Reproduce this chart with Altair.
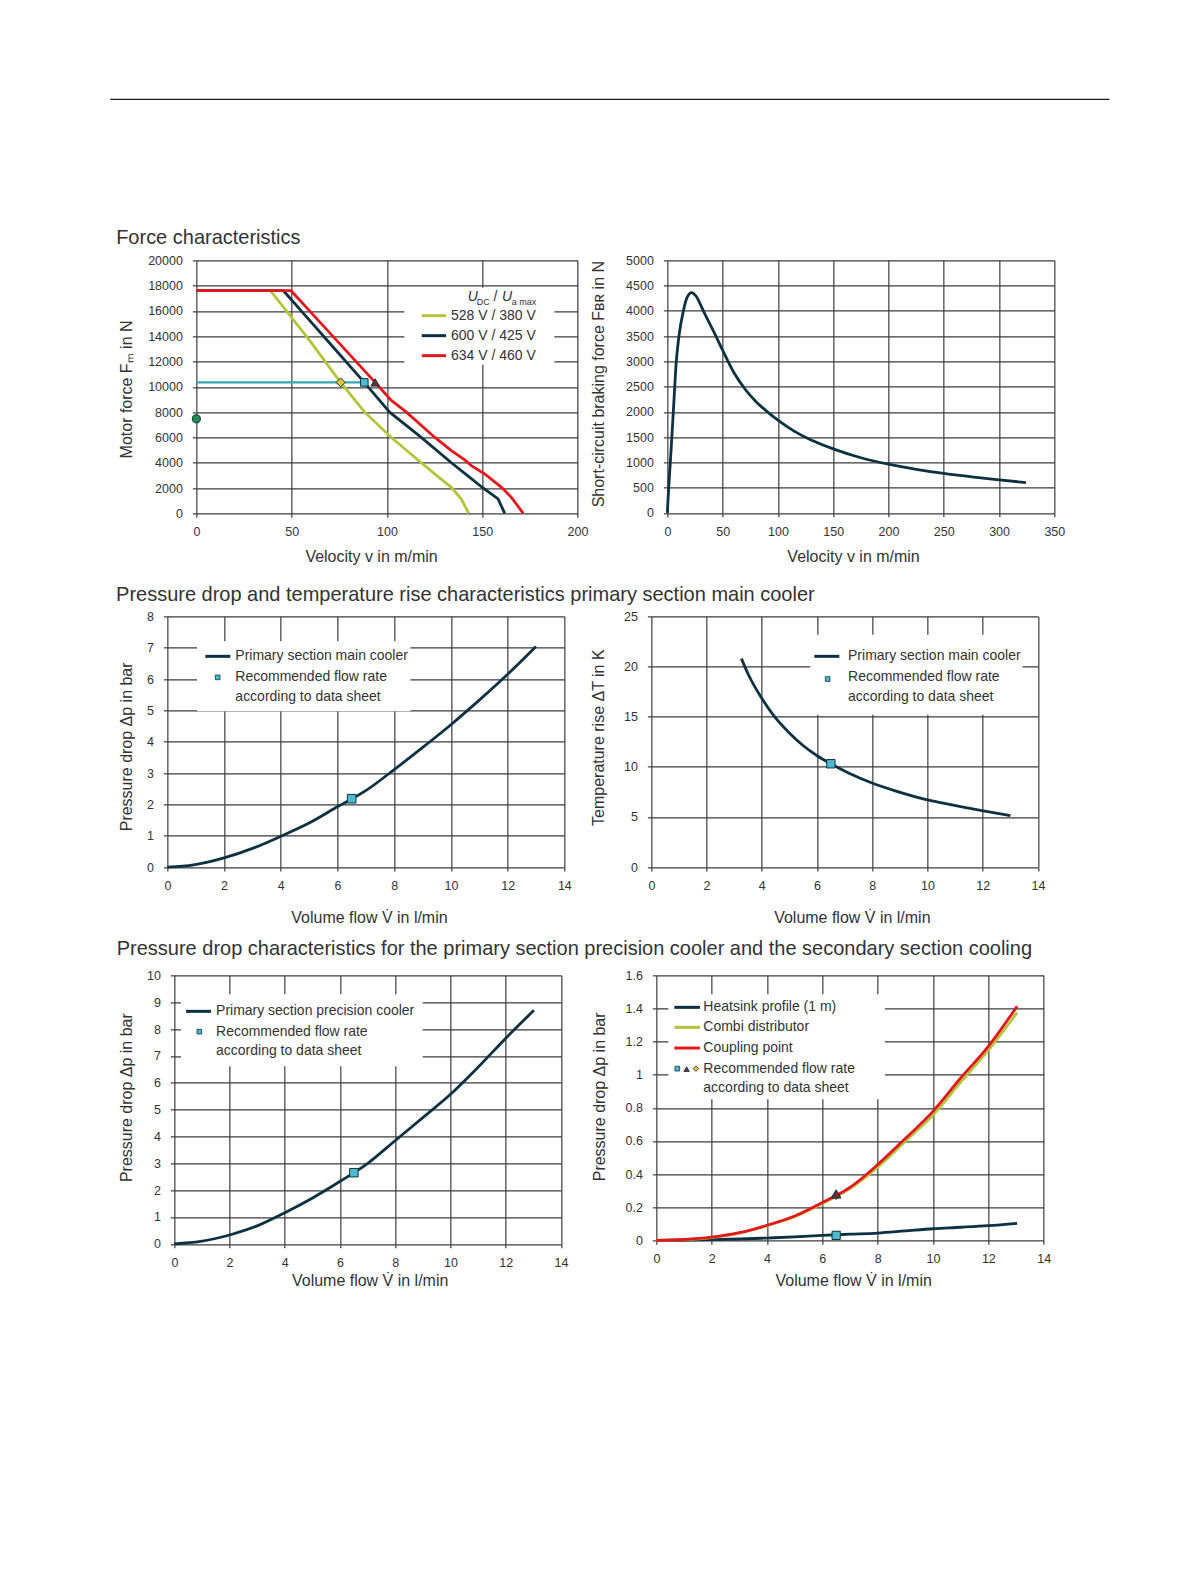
import altair as alt
import pandas as pd

FONT = "Liberation Sans"
TXT = "#333333"
GRID = "#3d3d3d"
DARK = "#0d3140"
GREEN = "#b4c53c"
RED = "#e3171e"
TEAL = "#35a8b5"
SQFILL = "#4db9cf"
DIAFILL = "#f0c233"
TRIFILL = "#7a2a26"
CIRCFILL = "#1f8c4e"

# ---------------- data ----------------
# Force characteristics
v_528 = [0, 38.9, 50, 60, 70, 75.7, 88.3, 102.3, 118, 125, 133.8, 139, 142.9]
F_528 = [17600, 17600, 15480, 13550, 11500, 10350, 8000, 6000, 4000, 3115, 2059, 1135, 0]
v_600 = [0, 45.7, 60, 70, 88.1, 101.4, 118, 133.8, 139, 150.4, 158.3, 161.8]
F_600 = [17600, 17600, 15160, 13450, 10350, 8000, 6000, 4000, 3379, 2006, 1135, 0]
v_634 = [0, 49.7, 60, 70, 93.8, 102.3, 110.2, 125, 133.8, 140.8, 144.3, 151.3, 160.1, 165.3, 171.5]
F_634 = [17600, 17600, 15910, 14270, 10350, 8923, 8000, 6019, 4963, 4224, 3775, 3115, 2059, 1267, 0]
op_line_v = [0, 88.1]
op_line_F = [10350, 10350]
op_528_v, op_600_v, op_634_v = [75.7], [88.1], [93.8]
op_F = [10350]
stand_v, stand_F = [0], [7470]

# Short-circuit braking force
v_br = [0, 1.2, 2.7, 5.4, 8.1, 10.5, 14.5, 18, 22, 25.6, 33.1, 42.2, 50, 60, 70, 80, 90,
        100, 115, 130, 150, 175, 200, 225, 250, 275, 300, 324.4]
F_br = [0, 500, 1000, 2000, 3000, 3500, 4000, 4270, 4359, 4300, 3975, 3578, 3220, 2783, 2457, 2206, 2010,
        1835, 1613, 1442, 1267, 1091, 963, 862, 780, 713, 653, 600]

# Pressure drop main cooler
q_main = [0, 0.93, 2, 3.05, 4, 4.93, 6.01, 7.05, 8, 9.05, 10.01, 10.93, 12.01, 13]
dp_main = [0, 0.07, 0.29, 0.61, 0.98, 1.37, 1.93, 2.47, 3.11, 3.85, 4.55, 5.27, 6.16, 7.04]
rec_main_q, rec_main_dp = [6.5], [2.18]

# Temperature rise main cooler
q_temp = [3.26, 3.52, 3.98, 4.43, 4.97, 5.46, 6.0, 6.5, 7.14, 7.99, 8.83, 10.0, 10.52, 11.97, 13.0]
dT_temp = [20.78, 19.15, 16.9, 15.1, 13.45, 12.2, 11.1, 10.3, 9.38, 8.38, 7.6, 6.7, 6.4, 5.62, 5.12]
rec_temp_q, rec_temp_dT = [6.5], [10.3]

# Pressure drop precision cooler
q_prec = [0, 0.95, 2.0, 3.0, 4.02, 5.02, 6.02, 6.99, 8.01, 9.04, 10.0, 10.97, 12.0, 13.02]
dp_prec = [0, 0.09, 0.33, 0.67, 1.17, 1.72, 2.34, 2.99, 3.86, 4.74, 5.57, 6.55, 7.66, 8.70]
rec_prec_q, rec_prec_dp = [6.5], [2.65]

# Secondary section cooling
q_sec = [0, 1, 2, 3, 4, 5, 6, 7, 8, 9, 10, 11, 12, 13.04]
dp_heatsink = [0, 0.001, 0.004, 0.008, 0.014, 0.021, 0.030, 0.037, 0.044, 0.057, 0.070, 0.079, 0.089, 0.103]
dp_combi = [0, 0.004, 0.017, 0.043, 0.088, 0.142, 0.222, 0.312, 0.441, 0.598, 0.757, 0.955, 1.148, 1.375]
dp_coupling = [0, 0.005, 0.019, 0.046, 0.091, 0.147, 0.229, 0.320, 0.457, 0.615, 0.779, 0.980, 1.171, 1.413]
rec_sec_q = [6.5]
rec_heatsink_dp, rec_combi_dp, rec_coupling_dp = [0.03], [0.27], [0.28]

one = pd.DataFrame({"d": [0]})


# ---------------- helpers ----------------
def ax(values, title, tx, ty, angle, pad):
    return alt.Axis(values=values, format="~f", title=title, grid=True, gridColor=GRID,
                    gridWidth=1.2, gridOpacity=1, domain=False, ticks=True, tickSize=4,
                    tickColor=GRID, tickWidth=1.2, labelFont=FONT, labelFontSize=12.5,
                    labelColor=TXT, labelPadding=pad, labelFlush=False, labelOverlap=False,
                    titleFont=FONT, titleFontSize=16, titleFontWeight="normal", titleColor=TXT,
                    titleX=tx, titleY=ty, titleAngle=angle, titleAlign="center",
                    titleBaseline="middle", zindex=0)


def enc(xdom, xvals, xtitle, xtx, xty, ydom, yvals, ytitle, ytx, yty):
    X = alt.X("x:Q", scale=alt.Scale(domain=xdom, nice=False, zero=False),
              axis=ax(xvals, xtitle, xtx, xty, 0, 8.5))
    Y = alt.Y("y:Q", scale=alt.Scale(domain=ydom, nice=False, zero=False),
              axis=ax(yvals, ytitle, ytx, yty, 270, 10))
    return X, Y


def curve(xs, ys, color, X, Y, width=2.8, interp="monotone"):
    df = pd.DataFrame({"x": xs, "y": ys})
    return alt.Chart(df).mark_line(color=color, strokeWidth=width, interpolate=interp).encode(x=X, y=Y)


def marks(xs, ys, shape, size, fill, X, Y, stroke=DARK, sw=1):
    df = pd.DataFrame({"x": xs, "y": ys})
    return alt.Chart(df).mark_point(shape=shape, size=size, filled=True, fill=fill, stroke=stroke,
                                    strokeWidth=sw, opacity=1).encode(x=X, y=Y)


def txt(s, x, y, size=14, style="normal", color=TXT, baseline="middle"):
    return alt.Chart(one).mark_text(text=s, font=FONT, fontSize=size, fontStyle=style, color=color,
                                    baseline=baseline, align="left").encode(
        x=alt.value(x), y=alt.value(y))


def seg(x1, x2, y, color, w=3):
    return alt.Chart(one).mark_rule(color=color, strokeWidth=w).encode(
        x=alt.value(x1), x2=alt.value(x2), y=alt.value(y))


def box(x1, x2, y1, y2):
    return alt.Chart(one).mark_rect(color="white").encode(
        x=alt.value(x1), x2=alt.value(x2), y=alt.value(y1), y2=alt.value(y2))


def sym(x, y, shape, size, fill, stroke=DARK, sw=0.8):
    return alt.Chart(one).mark_point(shape=shape, size=size, filled=True, fill=fill, stroke=stroke,
                                     strokeWidth=sw, opacity=1).encode(x=alt.value(x), y=alt.value(y))


def spacer(w, h):
    return alt.Chart(one).mark_point(opacity=0, size=1).encode(
        x=alt.value(w / 2), y=alt.value(h / 2)).properties(width=w, height=h)


VEL = "Velocity v in m/min"
VOL = "Volume flow V\u0307 in l/min"
DP = "Pressure drop \u0394p in bar"

# ---------------- panel 1: motor force ----------------
W1, H1 = 381.2, 253
X, Y = enc([0, 200], [0, 50, 100, 150, 200], VEL, 174.7, 43.3,
           [0, 20000], list(range(0, 20001, 2000)), "Motor force F\u2098 in N", -69.5, 128.6)
p1 = alt.layer(
    curve(v_528, F_528, GREEN, X, Y, interp="linear"),
    curve(v_600, F_600, DARK, X, Y, interp="linear"),
    curve(v_634, F_634, RED, X, Y, interp="linear"),
    curve(op_line_v, op_line_F, TEAL, X, Y, width=2.2, interp="linear"),
    marks(op_528_v, op_F, "diamond", 80, DIAFILL, X, Y),
    marks(op_600_v, op_F, "square", 58, SQFILL, X, Y),
    marks(op_634_v, op_F, "triangle-up", 70, TRIFILL, X, Y),
    marks(stand_v, stand_F, "circle", 65, CIRCFILL, X, Y),
    box(208, 358, 27.3, 104.3),
    txt("U", 271.4, 41, 14, "italic", baseline="alphabetic"),
    txt("DC", 280.4, 44.3, 9, baseline="alphabetic"),
    txt("/", 297.2, 41, 14, baseline="alphabetic"),
    txt("U", 305.7, 41, 14, "italic", baseline="alphabetic"),
    txt("a max", 315.4, 44.3, 9, baseline="alphabetic"),
    seg(225.4, 249.7, 55.3, GREEN), txt("528 V / 380 V", 254.7, 55.3),
    seg(225.4, 249.7, 75.3, DARK), txt("600 V / 425 V", 254.7, 75.3),
    seg(225.4, 249.7, 95.3, RED), txt("634 V / 460 V", 254.7, 95.3),
    txt("Force characteristics", -80.2, -16.7, 20, baseline="alphabetic"),
).properties(width=W1, height=H1)

# ---------------- panel 2: braking force ----------------
W2, H2 = 387, 252.5
X, Y = enc([0, 350], list(range(0, 351, 50)), VEL, 185.7, 43.7,
           [0, 5000], list(range(0, 5001, 500)),
           "Short-circuit braking force  F\u0299\u0280 in N", -68.6, 123.3)
p2 = alt.layer(
    curve(v_br, F_br, DARK, X, Y),
).properties(width=W2, height=H2)

# ---------------- panel 3: pressure drop main cooler ----------------
W3, H3 = 397, 250.7
X, Y = enc([0, 14], list(range(0, 15, 2)), VOL, 201.6, 50.3,
           [0, 8], list(range(0, 9)), DP, -41.2, 130)
p3 = alt.layer(
    curve(q_main, dp_main, DARK, X, Y),
    marks(rec_main_q, rec_main_dp, "square", 75, SQFILL, X, Y),
    box(29.7, 243, 25, 95),
    seg(38, 63, 40, DARK), txt("Primary section main cooler", 68, 40),
    sym(50.3, 61, "square", 22, SQFILL), txt("Recommended flow rate", 68, 60.7),
    txt("according to data sheet", 68, 80.7),
    txt("Pressure drop and temperature rise characteristics primary section main cooler",
        -51.3, -15.7, 20, baseline="alphabetic"),
).properties(width=W3, height=H3)

# ---------------- panel 4: temperature rise ----------------
W4, H4 = 386.7, 250.7
X, Y = enc([0, 14], list(range(0, 15, 2)), VOL, 200.5, 50.3,
           [0, 25], list(range(0, 26, 5)), "Temperature rise \u0394T in K", -53, 120.8)
p4 = alt.layer(
    curve(q_temp, dT_temp, DARK, X, Y),
    marks(rec_temp_q, rec_temp_dT, "square", 70, SQFILL, X, Y),
    box(159, 371, 18.3, 98.3),
    seg(163, 188, 40, DARK), txt("Primary section main cooler", 196.7, 40),
    sym(176.3, 62.7, "square", 22, SQFILL), txt("Recommended flow rate", 196.7, 60.7),
    txt("according to data sheet", 196.7, 80.7),
).properties(width=W4, height=H4)

# ---------------- panel 5: precision cooler ----------------
W5, H5 = 386.7, 268.5
X, Y = enc([0, 14], list(range(0, 15, 2)), VOL, 195.3, 36.3,
           [0, 10], list(range(0, 11)), DP, -47.5, 121.8)
p5 = alt.layer(
    curve(q_prec, dp_prec, DARK, X, Y),
    marks(rec_prec_q, rec_prec_dp, "square", 72, SQFILL, X, Y),
    box(6.7, 248.4, 19, 91),
    seg(11.7, 36.7, 36, DARK), txt("Primary section precision cooler", 41.7, 36),
    sym(25, 56.3, "square", 22, SQFILL), txt("Recommended flow rate", 41.7, 56.3),
    txt("according to data sheet", 41.7, 76),
    txt("Pressure drop characteristics for the primary section precision cooler and the secondary section cooling",
        -57.6, -20, 20, baseline="alphabetic"),
).properties(width=W5, height=H5)

# ---------------- panel 6: secondary section ----------------
W6, H6 = 387.3, 265
X, Y = enc([0, 14], list(range(0, 15, 2)), VOL, 196.8, 39.8,
           [0, 1.6], [0, 0.2, 0.4, 0.6, 0.8, 1, 1.2, 1.4, 1.6], DP, -56.7, 121)
p6 = alt.layer(
    curve(q_sec, dp_heatsink, DARK, X, Y),
    curve(q_sec, dp_combi, GREEN, X, Y),
    curve(q_sec, dp_coupling, RED, X, Y),
    marks(rec_sec_q, rec_heatsink_dp, "square", 68, SQFILL, X, Y),
    marks(rec_sec_q, rec_combi_dp, "diamond", 60, DIAFILL, X, Y),
    marks(rec_sec_q, rec_coupling_dp, "triangle-up", 90, TRIFILL, X, Y),
    box(12, 228.6, 19, 124),
    seg(18, 43.6, 32, DARK), txt("Heatsink profile (1 m)", 47, 32),
    seg(18, 43.6, 52, GREEN), txt("Combi distributor", 47, 52),
    seg(18, 43.6, 72.7, RED), txt("Coupling point", 47, 72.7),
    sym(21, 93.3, "square", 22, SQFILL), sym(30.3, 93.8, "triangle-up", 30, TRIFILL),
    sym(39.6, 93.3, "diamond", 30, DIAFILL),
    txt("Recommended flow rate", 47, 93.3),
    txt("according to data sheet", 47, 113),
).properties(width=W6, height=H6)

# ---------------- layout ----------------
rule_view = alt.Chart(one).mark_rule(color="#1a1a1a", strokeWidth=1.3).encode(
    x=alt.value(0), x2=alt.value(999), y=alt.value(0)).properties(width=999, height=160.7)

row1 = alt.hconcat(spacer(85.3, 1), p1, spacer(88.5, 1), p2, spacing=0, bounds="flush")
row2 = alt.hconcat(spacer(57, 1), p3, spacer(87, 1), p4, spacing=0, bounds="flush")
row3 = alt.hconcat(spacer(63.3, 1), p5, spacer(94.7, 1), p6, spacing=0, bounds="flush")

# nested rows count as zero height in the flush layout, so the gaps carry the row heights
chart = alt.vconcat(
    rule_view, row1, spacer(1, H1 + 102.3), row2, spacer(1, H3 + 108.3), row3,
    spacing=0, bounds="flush",
    padding={"left": 101.35, "top": 90.35, "right": 5, "bottom": 5},
    background="white",
).configure_view(strokeWidth=0)

chart.save("out.html", embed_options={"renderer": "svg", "actions": False})
